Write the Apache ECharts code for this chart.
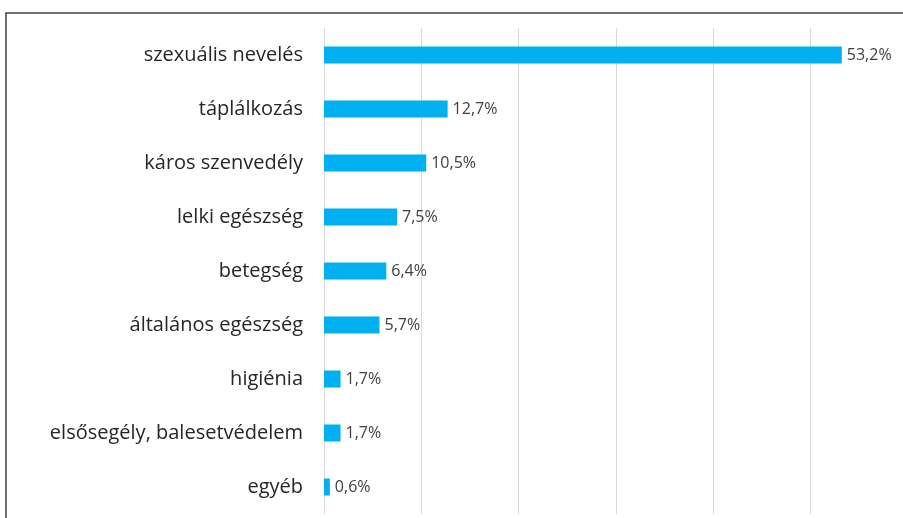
<!DOCTYPE html>
<html>
<head>
<meta charset="utf-8">
<script src="https://cdn.jsdelivr.net/npm/echarts@6/dist/echarts.min.js"></script>
<style>
  html, body { margin: 0; padding: 0; background: #fff; }
  #chart { width: 903px; height: 518px; }
</style>
</head>
<body>
<div id="chart"></div>
<script>
// témák, felülről lefelé
var categories = ['szexuális nevelés', 'táplálkozás', 'káros szenvedély', 'lelki egészség',
  'betegség', 'általános egészség', 'higiénia', 'elsősegély, balesetvédelem', 'egyéb'];
var values = [53.2, 12.7, 10.5, 7.5, 6.4, 5.7, 1.7, 1.7, 0.6];
var axisTicks = [0, 10, 20, 30, 40, 50, 60];

var font = 'Open Sans';
var chart = echarts.init(document.getElementById('chart'));
chart.setOption({
  animation: false,
  graphic: [{
    type: 'rect',
    shape: { x: 6, y: 13, width: 1000, height: 1000 },
    style: { fill: 'none', stroke: '#404040', lineWidth: 1.5 }
  }],
  grid: { left: 324, top: 28, width: 584, height: 486, outerBoundsMode: 'none' },
  xAxis: {
    type: 'value',
    min: axisTicks[0],
    max: axisTicks[axisTicks.length - 1],
    interval: 10,
    axisLabel: { show: false },
    axisLine: { show: false },
    axisTick: { show: false },
    splitLine: { lineStyle: { color: '#d9d9d9', width: 1 } }
  },
  yAxis: {
    type: 'category',
    data: categories,
    inverse: true,
    axisLine: { show: false },
    axisTick: { show: false },
    axisLabel: { color: '#262626', fontFamily: font, fontSize: 20, margin: 21 }
  },
  series: [{
    type: 'bar',
    data: values,
    barWidth: 17,
    itemStyle: { color: '#00b0f0' },
    label: {
      show: true,
      position: 'right',
      distance: 5,
      color: '#404040',
      fontFamily: font,
      fontSize: 16,
      formatter: function (p) { return p.value.toFixed(1).replace('.', ',') + '%'; }
    }
  }]
});
</script>
</body>
</html>
